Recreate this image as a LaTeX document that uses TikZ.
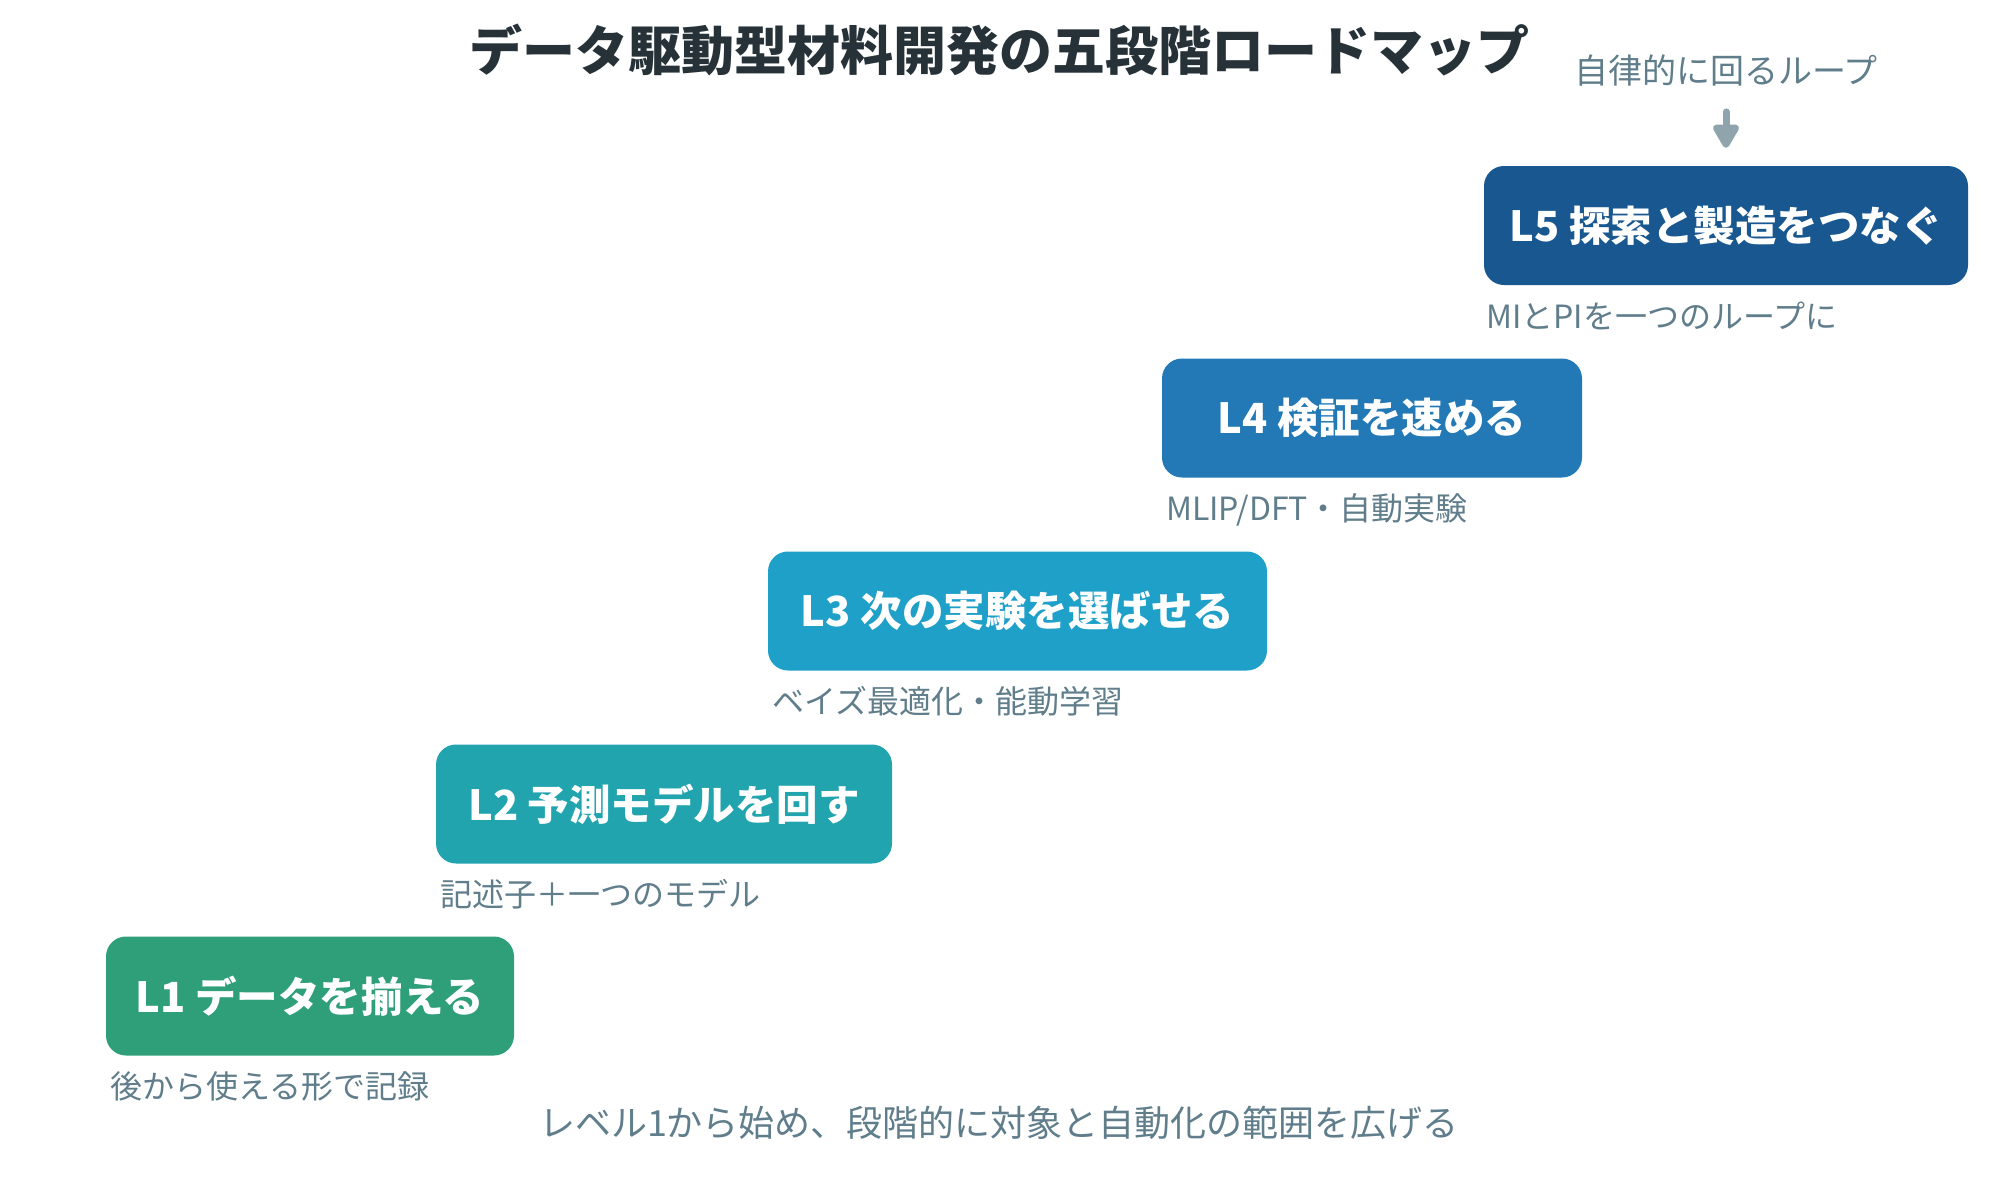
\documentclass[tikz,border=0pt]{standalone}
\usepackage{fontspec}
\setmainfont{Noto Sans CJK JP}
\usetikzlibrary{arrows.meta}
\definecolor{cOne}{HTML}{2E9F78}
\definecolor{cTwo}{HTML}{22A4AF}
\definecolor{cThree}{HTML}{1FA0C9}
\definecolor{cFour}{HTML}{2279B5}
\definecolor{cFive}{HTML}{18578F}
\definecolor{subgray}{HTML}{607D8B}
\definecolor{titlec}{HTML}{263238}
\definecolor{arrowgray}{HTML}{90A4AE}
\tikzset{
  stagebox/.style={rounded corners=20pt, minimum height=119pt, inner sep=0pt, text=white,
    font=\fontsize{41.5}{48}\selectfont\bfseries},
  sublabel/.style={anchor=west, inner sep=0pt, text=subgray, font=\fontsize{32}{38}\selectfont},
}
\begin{document}
\begin{tikzpicture}[x=1pt,y=-1pt]
\useasboundingbox (0,0) rectangle (2000,1186);
\fill[white] (0,0) rectangle (2000,1186);
\node[inner sep=0pt, text=titlec, font=\fontsize{53}{60}\selectfont\bfseries] (title) at (999,50) {データ駆動型材料開発の五段階ロードマップ};
\node[inner sep=0pt, text=subgray, font=\fontsize{34}{40}\selectfont] (loop) at (1726,71) {自律的に回るループ};

\node[stagebox, fill=cOne, minimum width=408pt] (l1) at (310,996) {L1 データを揃える};
\node[stagebox, fill=cTwo, minimum width=456pt] (l2) at (664,804) {L2 予測モデルを回す};
\node[stagebox, fill=cThree, minimum width=499pt] (l3) at (1017.5,611) {L3 次の実験を選ばせる};
\node[stagebox, fill=cFour, minimum width=420pt] (l4) at (1372,418) {L4 検証を速める};
\node[stagebox, fill=cFive, minimum width=484pt] (l5) at (1726,225.5) {L5 探索と製造をつなぐ};

\node[sublabel] (s1) at (110,1086) {後から使える形で記録};
\node[sublabel] (s2) at (440,894) {記述子＋一つのモデル};
\node[sublabel] (s3) at (772,701) {ベイズ最適化・能動学習};
\node[sublabel] (s4) at (1166,510) {MLIP/DFT・自動実験};
\node[sublabel] (s5) at (1486,316) {MIとPIを一つのループに};

\draw[arrowgray, line width=7pt, line cap=round, -{Triangle[width=29pt,length=27pt,round]}, shorten <=25pt, shorten >=18pt] (loop.south) -- (l5.north);

\node[inner sep=0pt, text=subgray, font=\fontsize{36}{42}\selectfont] (foot) at (999,1123) {レベル1から始め、段階的に対象と自動化の範囲を広げる};
\end{tikzpicture}
\end{document}
